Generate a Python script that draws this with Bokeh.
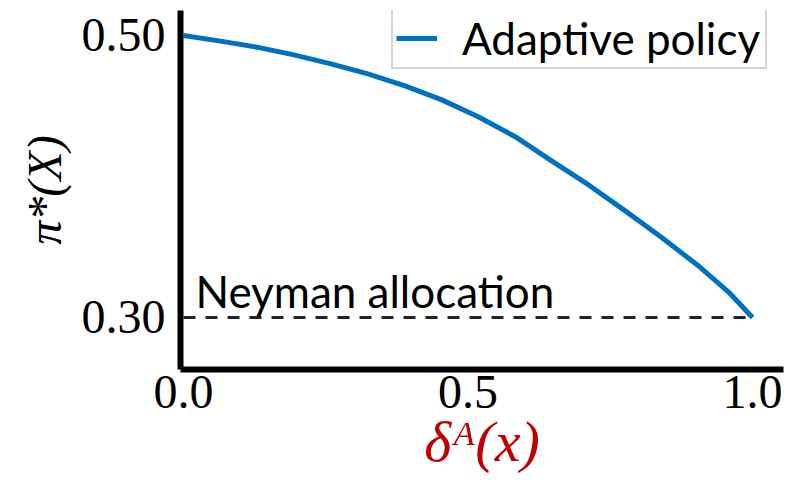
from bokeh.plotting import figure
from bokeh.models import FixedTicker, Legend, LegendItem, Label, Range1d
from bokeh.embed import file_html
from bokeh.resources import INLINE

# ---- data ----
delta = [0.0, 0.065, 0.129, 0.194, 0.259, 0.324, 0.388, 0.453, 0.518, 0.583,
         0.647, 0.712, 0.777, 0.841, 0.906, 0.958, 1.0]
pi_star = [0.500, 0.4960, 0.4917, 0.4862, 0.4798, 0.4727, 0.4644, 0.4545, 0.4424, 0.4282,
           0.4111, 0.3940, 0.3754, 0.3565, 0.3363, 0.3180, 0.300]
neyman_x = [0.0, 1.0]
neyman_y = [0.30, 0.30]
x_ticks = [0.0, 0.5, 1.0]
x_tick_labels = ["0.0", "0.5", "1.0"]
y_ticks = [0.30, 0.50]
y_tick_labels = ["0.30", "0.50"]

SERIF = "Liberation Serif"
SANS = "Lato"

p = figure(width=810, height=488, output_backend="svg", toolbar_location=None,
           x_range=Range1d(-0.0053, 1.0545), y_range=Range1d(0.2631, 0.5177),
           min_border_left=180, min_border_right=27, min_border_top=10, min_border_bottom=119)
p.outline_line_color = None
p.grid.visible = False
p.background_fill_color = "white"
p.border_fill_color = "white"

curve = p.line(delta, pi_star, line_color="#0070C0", line_width=5, line_join="round")
p.line(neyman_x, neyman_y, line_color="#222222", line_width=3, line_dash="12 10")

p.add_layout(Label(x=0.021, y=0.319, text="Neyman allocation", text_font=SANS,
                   text_font_size="44px", text_color="black", text_baseline="alphabetic"))

for ax in (p.xaxis[0], p.yaxis[0]):
    ax.axis_line_width = 6
    ax.axis_line_color = "black"
    ax.major_tick_line_color = None
    ax.minor_tick_line_color = None
    ax.major_tick_out = 0
    ax.major_tick_in = 0
    ax.major_label_text_font = SERIF
    ax.major_label_text_font_size = "48px"
    ax.major_label_text_color = "black"
    ax.axis_label_text_font = SERIF
    ax.axis_label_text_font_size = "48px"
    ax.axis_label_text_font_style = "italic"

p.xaxis.ticker = FixedTicker(ticks=x_ticks)
p.xaxis.major_label_overrides = {t: l for t, l in zip(x_ticks, x_tick_labels)}
p.xaxis.major_label_text_align = "left"
p.xaxis.major_label_standoff = 6
p.xaxis.axis_label = "δᴬ(x)"
p.xaxis.axis_label_text_color = "#C00000"
p.xaxis.axis_label_text_font_size = "58px"
p.xaxis.axis_label_standoff = -2

p.yaxis.ticker = FixedTicker(ticks=y_ticks)
p.yaxis.major_label_overrides = {t: l for t, l in zip(y_ticks, y_tick_labels)}
p.yaxis.major_label_standoff = 15
p.yaxis.axis_label = "π*(X)"
p.yaxis.axis_label_text_color = "black"
p.yaxis.axis_label_standoff = 8

legend = Legend(items=[LegendItem(label="Adaptive policy", renderers=[curve])],
                location=(211, 300), orientation="vertical")
legend.label_text_font = SANS
legend.label_text_font_size = "44px"
legend.label_text_color = "black"
legend.glyph_width = 41
legend.glyph_height = 52
legend.label_height = 52
legend.label_standoff = 25
legend.label_width = 300
legend.padding = 3
legend.margin = 0
legend.spacing = 0
legend.border_line_color = "#AAAAAA"
legend.border_line_width = 2
legend.background_fill_color = "white"
legend.background_fill_alpha = 1.0
p.add_layout(legend, "center")

open("out.html", "w").write(file_html(p, INLINE))
